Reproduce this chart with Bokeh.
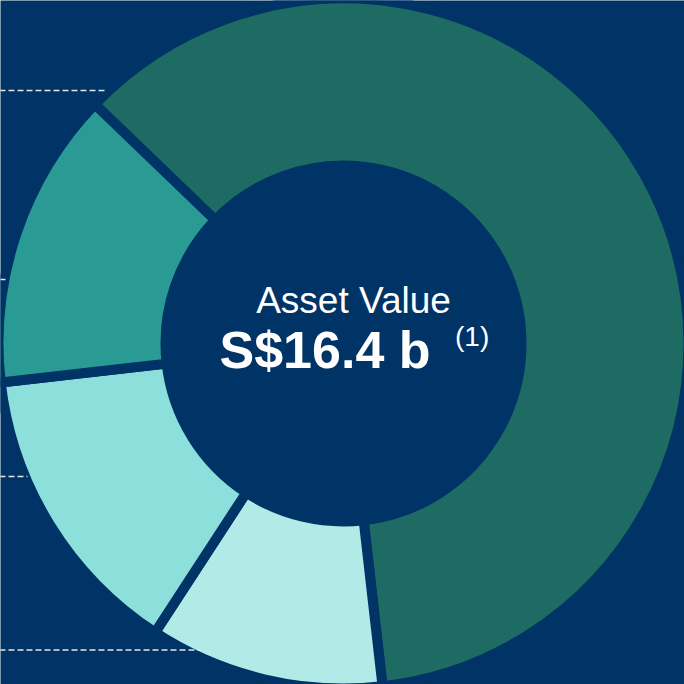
import math
from bokeh.plotting import figure
from bokeh.models import ColumnDataSource, Range1d
from bokeh.core.properties import value
from bokeh.embed import file_html
from bokeh.resources import INLINE

# ---- data ----
shares = [61, 11, 14, 14]          # % of asset value, clockwise from the upper-left boundary
slice_colors = ["#1e6b64", "#b1eae6", "#8cdfda", "#2a9b94"]
title_text = "Asset Value"
value_text = "S$16.4 b"
note_text = "(1)"

# ---- layout (screen pixels) ----
W = H = 684
OFF = 0
BG = "#003366"

def sx(x):
    return x - OFF

def sy(y):
    return (H + OFF) - y

CX, CY = sx(343), sy(343)
R_OUT, R_IN = 340, 183
GAP = 10
START_DEG = 136.1

leader_y = [90, 279, 476, 649.5]
leader_x_end = [105, 5, 27, 200]

p = figure(width=W, height=H, x_range=Range1d(0, W), y_range=Range1d(0, H),
           x_axis_type=None, y_axis_type=None, min_border=0,
           toolbar_location=None, output_backend="svg")
p.grid.visible = False
p.outline_line_color = None
p.background_fill_color = BG
p.border_fill_color = BG

total = float(sum(shares))
starts, ends = [], []
a = math.radians(START_DEG)
for v in shares:
    b = a - v / total * 2 * math.pi
    starts.append(b)
    ends.append(a)
    a = b

src = ColumnDataSource(dict(x=[CX] * len(shares), y=[CY] * len(shares),
                            start=starts, end=ends, color=slice_colors))
p.annular_wedge(x="x", y="y", inner_radius=R_IN - GAP / 2, outer_radius=R_OUT + GAP / 2,
                start_angle="start", end_angle="end", fill_color="color",
                line_color=BG, line_width=GAP, source=src)

# dashed leader lines on the left
p.segment(x0=[sx(-10)] * len(leader_y), y0=[sy(y) for y in leader_y],
          x1=[sx(x) for x in leader_x_end], y1=[sy(y) for y in leader_y],
          line_color="#e6e6e6", line_width=1.3, line_dash="6 3")

font = value("Liberation Sans")
p.text(x=[sx(353)], y=[sy(299.5)], text=[title_text], text_font=font,
       text_font_size="37px", text_color="white", text_align="center",
       text_baseline="alphabetic")
p.text(x=[sx(219)], y=[sy(349.5)], text=[value_text], text_font=font,
       text_font_size="52px", text_font_style="bold", text_color="white",
       text_align="left", text_baseline="alphabetic")
p.text(x=[sx(454.5)], y=[sy(336)], text=[note_text], text_font=font,
       text_font_size="28px", text_color="white", text_align="left",
       text_baseline="alphabetic")

open("out.html", "w").write(file_html(p, INLINE))
